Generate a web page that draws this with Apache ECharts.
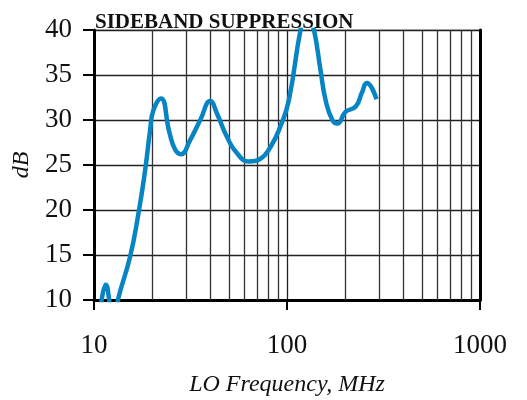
<!DOCTYPE html>
<html>
<head>
<meta charset="utf-8">
<script src="https://cdn.jsdelivr.net/npm/echarts@6/dist/echarts.min.js"></script>
<style>
  html, body { margin: 0; padding: 0; background: #fff; }
  #chart { width: 527px; height: 400px; }
</style>
</head>
<body>
<div id="chart"></div>
<script>
// data
var freqs = [10.8, 11.5, 12.2, 12.7, 13.37, 15.38, 16.99, 18.4, 19.54, 20.33, 22.21, 24.6, 26.35, 28.21,
             31.53, 35.53, 40.05, 43.4, 48.9, 55.1, 63.35, 72.8, 82.1, 92.5, 102.2,
             117.5, 127, 138, 149, 158.5, 171.7, 182.4, 201, 227, 244, 259, 291];
var dbs   = [9.0, 11.7, 9.0, 7.5, 10.2, 14.8, 19.6, 24.4, 28.9, 31.1, 32.4, 28.6, 26.7, 26.2,
             27.8, 30.0, 32.1, 30.7, 28.1, 26.3, 25.4, 25.7, 27.0, 29.3, 32.2,
             40.0, 42.5, 40.0, 35.6, 32.2, 30.0, 29.6, 30.9, 31.5, 33.0, 34.1, 32.3];
var minorGrid = [20, 30, 40, 50, 60, 70, 80, 90, 200, 300, 400, 500, 600, 700, 800, 900];
var xTicks = [10, 100, 1000];

var myChart = echarts.init(document.querySelector('#chart'));

var serif = '"Liberation Serif", "DejaVu Serif", serif';

var option = {
    animation: false,
    title: {
        text: 'SIDEBAND SUPPRESSION',
        left: 90,
        top: 7,
        textStyle: { fontFamily: serif, fontWeight: 'bold', fontSize: 21, color: '#111' }
    },
    grid: {
        left: 94, right: 47, top: 30, bottom: 100,
        outerBoundsMode: 'none',
        containLabel: false,
        show: true, borderColor: '#999', borderWidth: 1
    },
    xAxis: {
        type: 'log',
        logBase: 10,
        min: 10,
        max: 1000,
        name: 'LO Frequency, MHz',
        nameLocation: 'middle',
        nameGap: 73,
        nameTextStyle: { fontFamily: serif, fontStyle: 'italic', fontSize: 24, color: '#111' },
        axisLine: { lineStyle: { color: '#000', width: 3 } },
        axisTick: { show: true, length: 10, lineStyle: { color: '#000', width: 2 } },
        axisLabel: {
            margin: 32,
            fontFamily: serif, fontSize: 27, color: '#111',
            formatter: function (v) { return xTicks.indexOf(Math.round(v)) >= 0 ? String(Math.round(v)) : ''; }
        },
        splitLine: { show: true, lineStyle: { color: '#222', width: 1.3 } }
    },
    yAxis: [{
        type: 'value',
        min: 10,
        max: 40,
        interval: 5,
        name: 'dB',
        nameLocation: 'middle',
        nameGap: 55,
        nameTextStyle: { fontFamily: serif, fontStyle: 'italic', fontSize: 24, color: '#111' },
        axisLine: { show: true, lineStyle: { color: '#000', width: 3 } },
        axisTick: { show: true, length: 11, lineStyle: { color: '#000', width: 2 } },
        axisLabel: { margin: 22, fontFamily: serif, fontSize: 27, color: '#111' },
        splitLine: { show: true, lineStyle: { color: '#222', width: 1.3 } }
    }, {
        type: 'value',
        position: 'right',
        min: 10,
        max: 40,
        axisLine: { show: true, lineStyle: { color: '#000', width: 3 } },
        axisTick: { show: false },
        axisLabel: { show: false },
        splitLine: { show: false }
    }],
    series: [{
        type: 'line',
        data: freqs.map(function (f, i) { return [f, dbs[i]]; }),
        smooth: 0.5,
        showSymbol: false,
        clip: true,
        lineStyle: { color: '#0784c4', width: 4.5 },
        markLine: {
            silent: true,
            symbol: ['none', 'none'],
            label: { show: false },
            lineStyle: { color: '#333', width: 1.3, type: 'solid' },
            data: minorGrid.map(function (v) { return { xAxis: v }; })
        },
        z: 5
    }]
};

myChart.setOption(option);
</script>
</body>
</html>
